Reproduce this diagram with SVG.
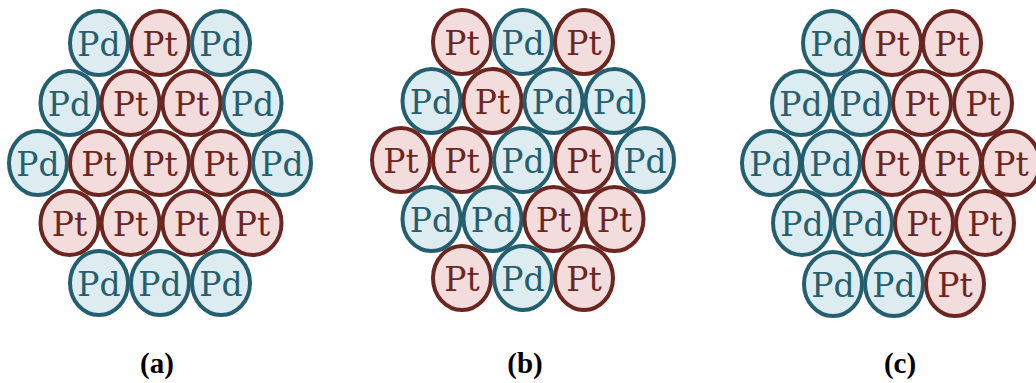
<svg xmlns="http://www.w3.org/2000/svg" width="1036" height="383" viewBox="0 0 1036 383">
<style>
.pd ellipse{fill:#dcecf1;stroke:#245f6f;stroke-width:4}
.pt ellipse{fill:#f3dcdc;stroke:#6b2622;stroke-width:4}
.pd text,.pt text{font-family:"DejaVu Serif",serif;font-size:33px;text-anchor:middle}
.pd text{fill:#245f6f}
.pt text{fill:#6b2622}
.lbl{font-family:"Liberation Serif",serif;font-weight:bold;font-size:29px;text-anchor:middle;fill:#000}
</style>
<g id="panel-a">
<g id="a1" class="pd" transform="translate(99,43)"><ellipse rx="29" ry="32"/><text y="13">Pd</text></g>
<g id="a2" class="pt" transform="translate(160,43)"><ellipse rx="29" ry="32"/><text y="13">Pt</text></g>
<g id="a3" class="pd" transform="translate(221,43)"><ellipse rx="29" ry="32"/><text y="13">Pd</text></g>
<g id="a4" class="pd" transform="translate(69.5,103)"><ellipse rx="29" ry="32"/><text y="13">Pd</text></g>
<g id="a5" class="pt" transform="translate(130.5,103)"><ellipse rx="29" ry="32"/><text y="13">Pt</text></g>
<g id="a6" class="pt" transform="translate(191.5,103)"><ellipse rx="29" ry="32"/><text y="13">Pt</text></g>
<g id="a7" class="pd" transform="translate(252.5,103)"><ellipse rx="29" ry="32"/><text y="13">Pd</text></g>
<g id="a8" class="pd" transform="translate(38,163)"><ellipse rx="29" ry="32"/><text y="13">Pd</text></g>
<g id="a9" class="pt" transform="translate(99,163)"><ellipse rx="29" ry="32"/><text y="13">Pt</text></g>
<g id="a10" class="pt" transform="translate(160,163)"><ellipse rx="29" ry="32"/><text y="13">Pt</text></g>
<g id="a11" class="pt" transform="translate(221,163)"><ellipse rx="29" ry="32"/><text y="13">Pt</text></g>
<g id="a12" class="pd" transform="translate(282,163)"><ellipse rx="29" ry="32"/><text y="13">Pd</text></g>
<g id="a13" class="pt" transform="translate(69.5,223)"><ellipse rx="29" ry="32"/><text y="13">Pt</text></g>
<g id="a14" class="pt" transform="translate(130.5,223)"><ellipse rx="29" ry="32"/><text y="13">Pt</text></g>
<g id="a15" class="pt" transform="translate(191.5,223)"><ellipse rx="29" ry="32"/><text y="13">Pt</text></g>
<g id="a16" class="pt" transform="translate(252.5,223)"><ellipse rx="29" ry="32"/><text y="13">Pt</text></g>
<g id="a17" class="pd" transform="translate(99,283)"><ellipse rx="29" ry="32"/><text y="13">Pd</text></g>
<g id="a18" class="pd" transform="translate(160,283)"><ellipse rx="29" ry="32"/><text y="13">Pd</text></g>
<g id="a19" class="pd" transform="translate(221,283)"><ellipse rx="29" ry="32"/><text y="13">Pd</text></g>
</g>
<g id="panel-b">
<g id="b1" class="pt" transform="translate(462,42)"><ellipse rx="29" ry="32"/><text y="13">Pt</text></g>
<g id="b2" class="pd" transform="translate(523,42)"><ellipse rx="29" ry="32"/><text y="13">Pd</text></g>
<g id="b3" class="pt" transform="translate(584,42)"><ellipse rx="29" ry="32"/><text y="13">Pt</text></g>
<g id="b4" class="pd" transform="translate(431.5,101)"><ellipse rx="29" ry="32"/><text y="13">Pd</text></g>
<g id="b5" class="pt" transform="translate(492.5,101)"><ellipse rx="29" ry="32"/><text y="13">Pt</text></g>
<g id="b6" class="pd" transform="translate(553.5,101)"><ellipse rx="29" ry="32"/><text y="13">Pd</text></g>
<g id="b7" class="pd" transform="translate(614.5,101)"><ellipse rx="29" ry="32"/><text y="13">Pd</text></g>
<g id="b8" class="pt" transform="translate(401,160)"><ellipse rx="29" ry="32"/><text y="13">Pt</text></g>
<g id="b9" class="pt" transform="translate(462,160)"><ellipse rx="29" ry="32"/><text y="13">Pt</text></g>
<g id="b10" class="pd" transform="translate(523,160)"><ellipse rx="29" ry="32"/><text y="13">Pd</text></g>
<g id="b11" class="pt" transform="translate(584,160)"><ellipse rx="29" ry="32"/><text y="13">Pt</text></g>
<g id="b12" class="pd" transform="translate(645,160)"><ellipse rx="29" ry="32"/><text y="13">Pd</text></g>
<g id="b13" class="pd" transform="translate(431.5,219)"><ellipse rx="29" ry="32"/><text y="13">Pd</text></g>
<g id="b14" class="pd" transform="translate(492.5,219)"><ellipse rx="29" ry="32"/><text y="13">Pd</text></g>
<g id="b15" class="pt" transform="translate(553.5,219)"><ellipse rx="29" ry="32"/><text y="13">Pt</text></g>
<g id="b16" class="pt" transform="translate(614.5,219)"><ellipse rx="29" ry="32"/><text y="13">Pt</text></g>
<g id="b17" class="pt" transform="translate(462,278)"><ellipse rx="29" ry="32"/><text y="13">Pt</text></g>
<g id="b18" class="pd" transform="translate(523,278)"><ellipse rx="29" ry="32"/><text y="13">Pd</text></g>
<g id="b19" class="pt" transform="translate(584,278)"><ellipse rx="29" ry="32"/><text y="13">Pt</text></g>
</g>
<g id="panel-c">
<g id="c1" class="pd" transform="translate(832,43)"><ellipse rx="29" ry="32"/><text y="13">Pd</text></g>
<g id="c2" class="pt" transform="translate(892,43)"><ellipse rx="29" ry="32"/><text y="13">Pt</text></g>
<g id="c3" class="pt" transform="translate(952,43)"><ellipse rx="29" ry="32"/><text y="13">Pt</text></g>
<g id="c4" class="pd" transform="translate(801,103)"><ellipse rx="29" ry="32"/><text y="13">Pd</text></g>
<g id="c5" class="pd" transform="translate(861,103)"><ellipse rx="29" ry="32"/><text y="13">Pd</text></g>
<g id="c6" class="pt" transform="translate(922,103)"><ellipse rx="29" ry="32"/><text y="13">Pt</text></g>
<g id="c7" class="pt" transform="translate(983,103)"><ellipse rx="29" ry="32"/><text y="13">Pt</text></g>
<g id="c8" class="pd" transform="translate(771,163)"><ellipse rx="29" ry="32"/><text y="13">Pd</text></g>
<g id="c9" class="pd" transform="translate(831,163)"><ellipse rx="29" ry="32"/><text y="13">Pd</text></g>
<g id="c10" class="pt" transform="translate(892,163)"><ellipse rx="29" ry="32"/><text y="13">Pt</text></g>
<g id="c11" class="pt" transform="translate(952,163)"><ellipse rx="29" ry="32"/><text y="13">Pt</text></g>
<g id="c12" class="pt" transform="translate(1011,163)"><ellipse rx="29" ry="32"/><text y="13">Pt</text></g>
<g id="c13" class="pd" transform="translate(802,223)"><ellipse rx="29" ry="32"/><text y="13">Pd</text></g>
<g id="c14" class="pd" transform="translate(863,223)"><ellipse rx="29" ry="32"/><text y="13">Pd</text></g>
<g id="c15" class="pt" transform="translate(924,223)"><ellipse rx="29" ry="32"/><text y="13">Pt</text></g>
<g id="c16" class="pt" transform="translate(985,223)"><ellipse rx="29" ry="32"/><text y="13">Pt</text></g>
<g id="c17" class="pd" transform="translate(833,284)"><ellipse rx="29" ry="32"/><text y="13">Pd</text></g>
<g id="c18" class="pd" transform="translate(894,284)"><ellipse rx="29" ry="32"/><text y="13">Pd</text></g>
<g id="c19" class="pt" transform="translate(955,284)"><ellipse rx="29" ry="32"/><text y="13">Pt</text></g>
</g>
<g id="labels">
<text class="lbl" x="157" y="373">(a)</text>
<text class="lbl" x="525" y="373">(b)</text>
<text class="lbl" x="900" y="373">(c)</text>
</g>
</svg>
